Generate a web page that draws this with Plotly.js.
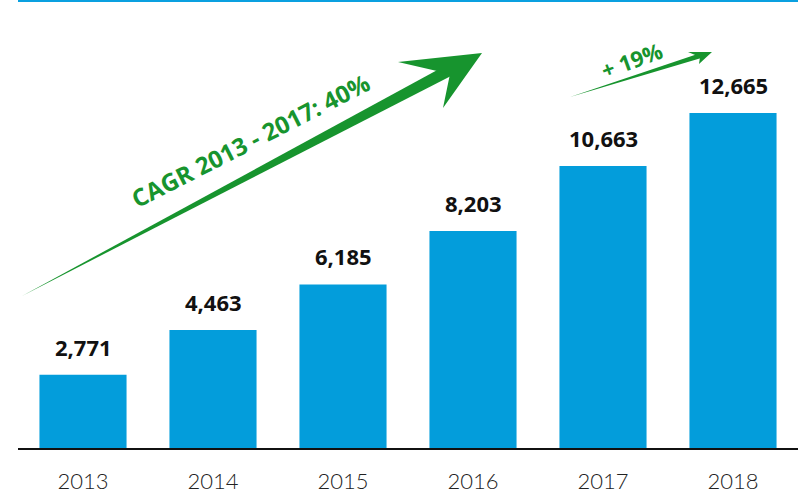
<!DOCTYPE html>
<html>
<head>
<meta charset="utf-8">
<script src="https://cdn.plot.ly/plotly-3.0.1.min.js"></script>
<style>
  body { margin: 0; background: #ffffff; }
  #plot-area { width: 798px; height: 498px; }
</style>
</head>
<body>
<div id="plot-area"></div>
<script>
var years = ["2013", "2014", "2015", "2016", "2017", "2018"];
var values = [2771, 4463, 6185, 8203, 10663, 12665];
var valueLabels = ["2,771", "4,463", "6,185", "8,203", "10,663", "12,665"];

var cagrText = "CAGR 2013 - 2017: 40%";
var growthText = "+ 19%";

// plot area in pixels: x 18..798, y 0..448
function px(x) { return (x - 18) / 780; }
function py(y) { return 1 - y / 448; }

function polyPath(pts) {
    var d = "";
    for (var i = 0; i < pts.length; i++) {
        d += (i == 0 ? "M " : " L ") + px(pts[i][0]).toFixed(5) + "," + py(pts[i][1]).toFixed(5);
    }
    return d + " Z";
}

// tapered shaft from tail to a point before the tip
function shaftPath(tail, tip, back, halfW) {
    var dx = tip[0] - tail[0], dy = tip[1] - tail[1];
    var len = Math.sqrt(dx * dx + dy * dy);
    var ux = dx / len, uy = dy / len;
    var nx = -uy, ny = ux;
    var bx = tip[0] - back * ux, by = tip[1] - back * uy;
    return polyPath([tail, [bx + halfW * nx, by + halfW * ny], [bx - halfW * nx, by - halfW * ny]]);
}

function UpdatePlot() {
    var green = "#17942e";

    var data = [
        {
            x: years,
            y: values,
            type: "bar",
            marker: {color: "#039ddb"},
            hoverinfo: "none"
        }
    ];

    var annotations = [];
    for (var i = 0; i < years.length; i++) {
        annotations.push({
            xref: "x", yref: "y",
            x: i, y: values[i], text: valueLabels[i],
            showarrow: false, yanchor: "middle", yshift: 28,
            font: {family: "Open Sans", size: 22, weight: 700, color: "#111111"}
        });
    }
    annotations.push({
        xref: "paper", yref: "paper", x: px(250), y: py(141),
        xanchor: "center", yanchor: "middle",
        text: cagrText, showarrow: false, textangle: -27,
        font: {family: "Open Sans", size: 24, weight: 700, color: green}
    });
    annotations.push({
        xref: "paper", yref: "paper", x: px(631), y: py(60),
        xanchor: "center", yanchor: "middle",
        text: growthText, showarrow: false, textangle: -20,
        font: {family: "Open Sans", size: 22, weight: 700, color: green}
    });

    var shapes = [
        // blue rule at top
        {type: "line", xref: "paper", yref: "paper", x0: 0, x1: 1, y0: py(1), y1: py(1),
         line: {color: "#0aa0e0", width: 2}},
        // big arrow
        {type: "path", xref: "paper", yref: "paper", path: shaftPath([22, 296], [482, 53], 25, 6),
         fillcolor: green, line: {width: 0}},
        {type: "path", xref: "paper", yref: "paper",
         path: polyPath([[482, 53], [398, 62], [450, 74], [443, 108]]),
         fillcolor: green, line: {width: 0}},
        // small arrow
        {type: "path", xref: "paper", yref: "paper", path: shaftPath([570, 97], [712, 52], 12, 2.4),
         fillcolor: green, line: {width: 0}},
        {type: "path", xref: "paper", yref: "paper",
         path: polyPath([[712, 52], [688, 52], [700, 57], [699, 64]]),
         fillcolor: green, line: {width: 0}}
    ];

    var layout = {
        width: 798,
        height: 498,
        margin: {l: 18, r: 0, t: 0, b: 50},
        paper_bgcolor: "#ffffff",
        plot_bgcolor: "#ffffff",
        bargap: 0.33,
        showlegend: false,
        xaxis: {
            type: "category",
            range: [-0.5, 5.5],
            showline: true, linecolor: "#111111", linewidth: 1.5,
            ticks: "", ticklabelstandoff: 13,
            tickfont: {family: "Lato", size: 22, weight: 300, color: "#222222"},
            showgrid: false, zeroline: false, fixedrange: true
        },
        yaxis: {
            range: [0, 16937],
            visible: false, showgrid: false, zeroline: false, fixedrange: true
        },
        annotations: annotations,
        shapes: shapes
    };

    Plotly.newPlot("plot-area", data, layout, {displayModeBar: false, staticPlot: true});
}

UpdatePlot();
</script>
</body>
</html>
